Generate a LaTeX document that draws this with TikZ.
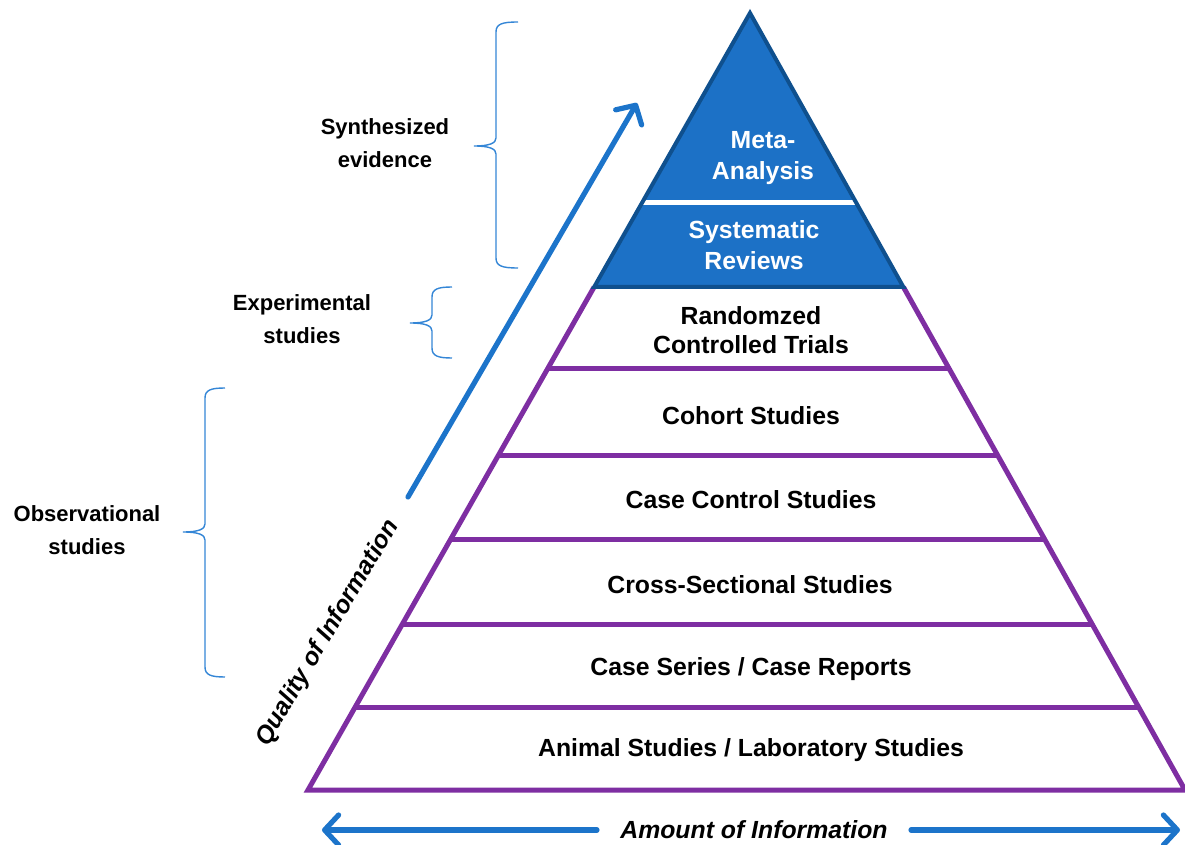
\documentclass[tikz,border=0pt]{standalone}
\usepackage{fontspec}
\setmainfont{Liberation Sans}
\usetikzlibrary{arrows.meta,calc}
\definecolor{pyrblue}{RGB}{28,113,198}
\definecolor{pyrdark}{RGB}{15,80,142}
\definecolor{pyrpurple}{RGB}{126,46,162}
\definecolor{arrblue}{RGB}{28,116,202}
\definecolor{braceblue}{RGB}{52,134,214}
\tikzset{
  lbl/.style={font=\bfseries\fontsize{12.4}{14.8}\selectfont, align=center},
  wlbl/.style={lbl, text=white, font=\bfseries\fontsize{12.4}{15.5}\selectfont},
  sidelbl/.style={font=\bfseries\fontsize{11}{16.5}\selectfont, align=center},
  band/.style={draw=pyrpurple, line width=2.5pt},
  brace/.style={draw=braceblue, line width=0.7pt},
  bigarrow/.style={draw=arrblue, line width=2.6pt, line cap=round,
    -{Straight Barb[length=7pt,width=15pt,round]}}
}
\newcommand{\grpbrace}[6]{%
  \draw[brace] (#1,#4) .. controls (#2+6,#4) and (#2,#4+2) .. (#2,#4+10)
    -- (#2,#5-8) .. controls (#2,#5-3) and (#2-6,#5) .. (#3,#5)
    .. controls (#2-6,#5) and (#2,#5+3) .. (#2,#5+8)
    -- (#2,#6-10) .. controls (#2,#6-2) and (#2+6,#6) .. (#1,#6);}
\begin{document}
\begin{tikzpicture}[x=0.5pt,y=-0.5pt]
    \useasboundingbox (0,0) rectangle (1185,845);
    \coordinate (apex) at (750,13);
    \coordinate (bl) at (308,790);
    \coordinate (br) at (1185,790);
    \draw[band, line join=miter] ($(apex)!0.3526!(bl)$) -- (bl) -- (br) -- ($(apex)!0.3526!(br)$);
    \foreach \t in {0.4569,0.5701,0.6770,0.7864,0.8932}
        \draw[band] ($(apex)!\t!(bl)$) -- ($(apex)!\t!(br)$);
    \fill[pyrblue] (apex) -- ($(apex)!0.3526!(bl)$) -- ($(apex)!0.3526!(br)$) -- cycle;
    \draw[white, line width=2.5pt] ($(apex)!0.2445!(bl)$) -- ($(apex)!0.2445!(br)$);
    \draw[pyrdark, line width=2pt] (apex) -- ($(apex)!0.3526!(bl)$) -- ($(apex)!0.3526!(br)$) -- cycle;

    \node[wlbl] (meta) at (763,158) {Meta-\\Analysis};
    \node[wlbl] (sysrev) at (754,245) {Systematic\\Reviews};
    \node[lbl] (rct) at (751,330) {Randomzed\\Controlled Trials};
    \node[lbl] (cohort) at (751,416) {Cohort Studies};
    \node[lbl] (casectl) at (751,500) {Case Control Studies};
    \node[lbl] (cross) at (750,585) {Cross-Sectional Studies};
    \node[lbl] (series) at (751,669) {Case Series / Case Reports};
    \node[lbl] (animal) at (751,750) {Animal Studies / Laboratory Studies};

    \node[sidelbl] (synth) at (385,143) {Synthesized\\evidence};
    \node[sidelbl] (exper) at (302,319) {Experimental\\studies};
    \node[sidelbl] (observ) at (87,530) {Observational\\studies};
    \grpbrace{518}{496}{474}{22}{146}{268}
    \grpbrace{452}{432}{410}{287}{323}{358}
    \grpbrace{225}{205}{183}{388}{532}{677}

    \node[lbl, font=\bfseries\itshape\fontsize{12.4}{14.8}\selectfont, rotate=59.5] (quality) at (328,633) {Quality of Information};
    \coordinate (qlo) at (408,497);
    \coordinate (qhi) at (637,103);
    \draw[bigarrow] (qlo) -- (qhi);

    \node[lbl, font=\bfseries\itshape\fontsize{12.4}{14.8}\selectfont, inner xsep=11.5pt] (amount) at (754,830) {Amount of Information};
    \coordinate (amtL) at (322,830);
    \coordinate (amtR) at (1180,830);
    \draw[bigarrow] (amount.west) -- (amtL);
    \draw[bigarrow] (amount.east) -- (amtR);
\end{tikzpicture}
\end{document}
